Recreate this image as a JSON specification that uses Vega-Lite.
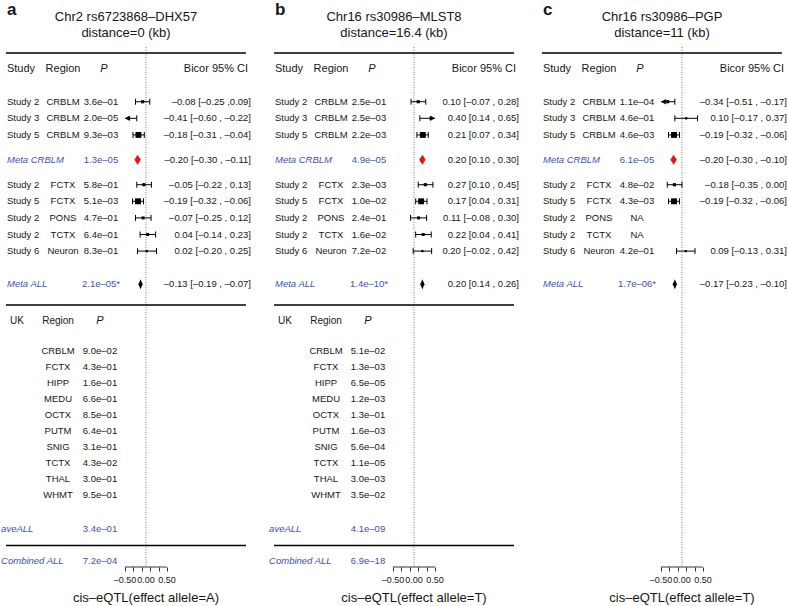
{
  "$schema": "https://vega.github.io/schema/vega-lite/v6.json",
  "padding": 0,
  "bounds": "flush",
  "spacing": 16,
  "datasets": {
    "rows": [
    {"panel":"a","kind":"title","letter":"a","t1":"Chr2 rs6723868–DHX57","t2":"distance=0 (kb)","axt":"cis–eQTL(effect allele=A)"},
    {"panel":"b","kind":"title","letter":"b","t1":"Chr16 rs30986–MLST8","t2":"distance=16.4 (kb)","axt":"cis–eQTL(effect allele=T)"},
    {"panel":"c","kind":"title","letter":"c","t1":"Chr16 rs30986–PGP","t2":"distance=11 (kb)","axt":"cis–eQTL(effect allele=T)"},
    {"panel":"a","kind":"hrule","row":-2.93},
    {"panel":"a","kind":"hrule","row":12.25},
    {"panel":"a","kind":"hrule","row":26.74},
    {"panel":"b","kind":"hrule","row":-2.93},
    {"panel":"b","kind":"hrule","row":12.25},
    {"panel":"b","kind":"hrule","row":26.74},
    {"panel":"c","kind":"hrule","row":-2.93},
    {"panel":"a","kind":"study","row":0,"study":"Study 2","region":"CRBLM","p":"3.6e–01","est":-0.08,"lo":-0.25,"hi":0.09,"clip":"none","w":1,"ci":"–0.08 [–0.25 ,0.09]"},
    {"panel":"a","kind":"study","row":1,"study":"Study 3","region":"CRBLM","p":"2.0e–05","est":-0.41,"lo":-0.60,"hi":-0.22,"clip":"left","w":0.7,"ci":"–0.41 [–0.60 , –0.22]"},
    {"panel":"a","kind":"study","row":2,"study":"Study 5","region":"CRBLM","p":"9.3e–03","est":-0.18,"lo":-0.31,"hi":-0.04,"clip":"none","w":3.5,"ci":"–0.18 [–0.31 , –0.04]"},
    {"panel":"a","kind":"meta","row":3.5,"study":"Meta CRBLM","grp":"CRBLM","p":"1.3e–05","est":-0.20,"ci":"–0.20 [–0.30 , –0.11]"},
    {"panel":"a","kind":"study","row":5,"study":"Study 2","region":"FCTX","p":"5.8e–01","est":-0.05,"lo":-0.22,"hi":0.13,"clip":"none","w":1,"ci":"–0.05 [–0.22 , 0.13]"},
    {"panel":"a","kind":"study","row":6,"study":"Study 5","region":"FCTX","p":"5.1e–03","est":-0.19,"lo":-0.32,"hi":-0.06,"clip":"none","w":3.5,"ci":"–0.19 [–0.32 , –0.06]"},
    {"panel":"a","kind":"study","row":7,"study":"Study 2","region":"PONS","p":"4.7e–01","est":-0.07,"lo":-0.25,"hi":0.12,"clip":"none","w":0.9,"ci":"–0.07 [–0.25 , 0.12]"},
    {"panel":"a","kind":"study","row":8,"study":"Study 2","region":"TCTX","p":"6.4e–01","est":0.04,"lo":-0.14,"hi":0.23,"clip":"none","w":0.9,"ci":"0.04 [–0.14 , 0.23]"},
    {"panel":"a","kind":"study","row":9,"study":"Study 6","region":"Neuron","p":"8.3e–01","est":0.02,"lo":-0.20,"hi":0.25,"clip":"none","w":0.5,"ci":"0.02 [–0.20 , 0.25]"},
    {"panel":"a","kind":"meta","row":11,"study":"Meta ALL","grp":"ALL","p":"2.1e–05*","est":-0.13,"ci":"–0.13 [–0.19 , –0.07]"},
    {"panel":"b","kind":"study","row":0,"study":"Study 2","region":"CRBLM","p":"2.5e–01","est":0.10,"lo":-0.07,"hi":0.28,"clip":"none","w":1,"ci":"0.10 [–0.07 , 0.28]"},
    {"panel":"b","kind":"study","row":1,"study":"Study 3","region":"CRBLM","p":"2.5e–03","est":0.40,"lo":0.14,"hi":0.65,"clip":"right","w":0.7,"ci":"0.40 [0.14 , 0.65]"},
    {"panel":"b","kind":"study","row":2,"study":"Study 5","region":"CRBLM","p":"2.2e–03","est":0.21,"lo":0.07,"hi":0.34,"clip":"none","w":3.5,"ci":"0.21 [0.07 , 0.34]"},
    {"panel":"b","kind":"meta","row":3.5,"study":"Meta CRBLM","grp":"CRBLM","p":"4.9e–05","est":0.20,"ci":"0.20 [0.10 , 0.30]"},
    {"panel":"b","kind":"study","row":5,"study":"Study 2","region":"FCTX","p":"2.3e–03","est":0.27,"lo":0.10,"hi":0.45,"clip":"none","w":1,"ci":"0.27 [0.10 , 0.45]"},
    {"panel":"b","kind":"study","row":6,"study":"Study 5","region":"FCTX","p":"1.0e–02","est":0.17,"lo":0.04,"hi":0.31,"clip":"none","w":3.5,"ci":"0.17 [0.04 , 0.31]"},
    {"panel":"b","kind":"study","row":7,"study":"Study 2","region":"PONS","p":"2.4e–01","est":0.11,"lo":-0.08,"hi":0.30,"clip":"none","w":0.9,"ci":"0.11 [–0.08 , 0.30]"},
    {"panel":"b","kind":"study","row":8,"study":"Study 2","region":"TCTX","p":"1.6e–02","est":0.22,"lo":0.04,"hi":0.41,"clip":"none","w":0.9,"ci":"0.22 [0.04 , 0.41]"},
    {"panel":"b","kind":"study","row":9,"study":"Study 6","region":"Neuron","p":"7.2e–02","est":0.20,"lo":-0.02,"hi":0.42,"clip":"none","w":0.5,"ci":"0.20 [–0.02 , 0.42]"},
    {"panel":"b","kind":"meta","row":11,"study":"Meta ALL","grp":"ALL","p":"1.4e–10*","est":0.20,"ci":"0.20 [0.14 , 0.26]"},
    {"panel":"c","kind":"study","row":0,"study":"Study 2","region":"CRBLM","p":"1.1e–04","est":-0.34,"lo":-0.51,"hi":-0.17,"clip":"left","w":1,"ci":"–0.34 [–0.51 , –0.17]"},
    {"panel":"c","kind":"study","row":1,"study":"Study 3","region":"CRBLM","p":"4.6e–01","est":0.10,"lo":-0.17,"hi":0.37,"clip":"none","w":0.5,"ci":"0.10 [–0.17 , 0.37]"},
    {"panel":"c","kind":"study","row":2,"study":"Study 5","region":"CRBLM","p":"4.6e–03","est":-0.19,"lo":-0.32,"hi":-0.06,"clip":"none","w":3.5,"ci":"–0.19 [–0.32 , –0.06]"},
    {"panel":"c","kind":"meta","row":3.5,"study":"Meta CRBLM","grp":"CRBLM","p":"6.1e–05","est":-0.20,"ci":"–0.20 [–0.30 , –0.10]"},
    {"panel":"c","kind":"study","row":5,"study":"Study 2","region":"FCTX","p":"4.8e–02","est":-0.18,"lo":-0.35,"hi":0.00,"clip":"none","w":1,"ci":"–0.18 [–0.35 , 0.00]"},
    {"panel":"c","kind":"study","row":6,"study":"Study 5","region":"FCTX","p":"4.3e–03","est":-0.19,"lo":-0.32,"hi":-0.06,"clip":"none","w":3.5,"ci":"–0.19 [–0.32 , –0.06]"},
    {"panel":"c","kind":"study","row":7,"study":"Study 2","region":"PONS","p":"NA","clip":"none"},
    {"panel":"c","kind":"study","row":8,"study":"Study 2","region":"TCTX","p":"NA","clip":"none"},
    {"panel":"c","kind":"study","row":9,"study":"Study 6","region":"Neuron","p":"4.2e–01","est":0.09,"lo":-0.13,"hi":0.31,"clip":"none","w":0.5,"ci":"0.09 [–0.13 , 0.31]"},
    {"panel":"c","kind":"meta","row":11,"study":"Meta ALL","grp":"ALL","p":"1.7e–06*","est":-0.17,"ci":"–0.17 [–0.23 , –0.10]"},
    {"panel":"a","kind":"ukhdr","row":13.19},
    {"panel":"b","kind":"ukhdr","row":13.19},
    {"panel":"a","kind":"uk","row":15.02,"region":"CRBLM","p":"9.0e–02"},
    {"panel":"a","kind":"uk","row":15.98,"region":"FCTX","p":"4.3e–01"},
    {"panel":"a","kind":"uk","row":16.95,"region":"HIPP","p":"1.6e–01"},
    {"panel":"a","kind":"uk","row":17.91,"region":"MEDU","p":"6.6e–01"},
    {"panel":"a","kind":"uk","row":18.87,"region":"OCTX","p":"8.5e–01"},
    {"panel":"a","kind":"uk","row":19.84,"region":"PUTM","p":"6.4e–01"},
    {"panel":"a","kind":"uk","row":20.80,"region":"SNIG","p":"3.1e–01"},
    {"panel":"a","kind":"uk","row":21.77,"region":"TCTX","p":"4.3e–02"},
    {"panel":"a","kind":"uk","row":22.73,"region":"THAL","p":"3.0e–01"},
    {"panel":"a","kind":"uk","row":23.69,"region":"WHMT","p":"9.5e–01"},
    {"panel":"a","kind":"ukmeta","row":25.72,"study":"aveALL","p":"3.4e–01"},
    {"panel":"a","kind":"ukmeta","row":27.64,"study":"Combined ALL","p":"7.2e–04"},
    {"panel":"b","kind":"uk","row":15.02,"region":"CRBLM","p":"5.1e–02"},
    {"panel":"b","kind":"uk","row":15.98,"region":"FCTX","p":"1.3e–03"},
    {"panel":"b","kind":"uk","row":16.95,"region":"HIPP","p":"6.5e–05"},
    {"panel":"b","kind":"uk","row":17.91,"region":"MEDU","p":"1.2e–03"},
    {"panel":"b","kind":"uk","row":18.87,"region":"OCTX","p":"1.3e–01"},
    {"panel":"b","kind":"uk","row":19.84,"region":"PUTM","p":"1.6e–03"},
    {"panel":"b","kind":"uk","row":20.80,"region":"SNIG","p":"5.6e–04"},
    {"panel":"b","kind":"uk","row":21.77,"region":"TCTX","p":"1.1e–05"},
    {"panel":"b","kind":"uk","row":22.73,"region":"THAL","p":"3.0e–03"},
    {"panel":"b","kind":"uk","row":23.69,"region":"WHMT","p":"3.5e–02"},
    {"panel":"b","kind":"ukmeta","row":25.72,"study":"aveALL","p":"4.1e–09"},
    {"panel":"b","kind":"ukmeta","row":27.64,"study":"Combined ALL","p":"6.9e–18"}
    ]
  },
  "data": {"name": "rows"},
  "facet": {"column": {"field": "panel", "type": "nominal", "title": null, "header": {"labels": false}}},
  "spec": {
    "width": 252,
    "height": 567,
    "layer": [
      {
        "transform": [{"filter": "datum.kind=='title'"}],
        "mark": {"type": "rule", "strokeDash": [1, 1.5], "color": "#777", "strokeWidth": 1},
        "encoding": {
          "x": {"datum": 0, "type": "quantitative",
                "scale": {"domain": [-3.476, 2.524], "nice": false, "zero": false},
                "axis": {"values": [-0.5, -0.4, -0.3, -0.2, -0.1, 0, 0.1, 0.2, 0.3, 0.4, 0.5],
                         "labels": false, "domain": false, "grid": false, "tickSize": 4, "tickColor": "#000", "tickWidth": 0.8,
                         "title": null}},
          "y": {"datum": -3.3, "type": "quantitative",
                "scale": {"domain": [-6.127, 28.03], "reverse": true, "nice": false, "zero": false},
                "axis": null},
          "y2": {"datum": 28.03}
        }
      },
      {
        "transform": [{"filter": "datum.kind=='hrule'"}],
        "mark": {"type": "rule", "color": "#000", "strokeWidth": 1.5},
        "encoding": {
          "x": {"datum": -3.333, "type": "quantitative"}, "x2": {"datum": 2.381},
          "y": {"field": "row", "type": "quantitative"}
        }
      },
      {
        "transform": [{"filter": "datum.kind=='title'"}],
        "mark": {"type": "rule", "color": "#000", "strokeWidth": 0.8},
        "encoding": {
          "x": {"datum": -0.5, "type": "quantitative"}, "x2": {"datum": 0.5},
          "y": {"datum": 28.03, "type": "quantitative"}
        }
      },
      {
        "transform": [{"filter": "datum.kind=='title'"}],
        "mark": {"type": "text", "align": "center", "baseline": "middle", "fontSize": 9, "text": "–0.50"},
        "encoding": {"x": {"datum": -0.5, "type": "quantitative"}, "y": {"datum": 28.81, "type": "quantitative"}}
      },
      {
        "transform": [{"filter": "datum.kind=='title'"}],
        "mark": {"type": "text", "align": "center", "baseline": "middle", "fontSize": 9, "text": "0.00"},
        "encoding": {"x": {"datum": 0, "type": "quantitative"}, "y": {"datum": 28.81, "type": "quantitative"}}
      },
      {
        "transform": [{"filter": "datum.kind=='title'"}],
        "mark": {"type": "text", "align": "center", "baseline": "middle", "fontSize": 9, "text": "0.50"},
        "encoding": {"x": {"datum": 0.5, "type": "quantitative"}, "y": {"datum": 28.81, "type": "quantitative"}}
      },
      {
        "transform": [{"filter": "datum.kind=='study' && datum.clip=='none' && isValid(datum.lo)"}],
        "mark": {"type": "rule", "color": "#000", "strokeWidth": 1},
        "encoding": {
          "x": {"field": "lo", "type": "quantitative", "title": null}, "x2": {"field": "hi"},
          "y": {"field": "row", "type": "quantitative"}
        }
      },
      {
        "transform": [{"filter": "datum.kind=='study' && datum.clip=='left'"}],
        "mark": {"type": "rule", "color": "#000", "strokeWidth": 1},
        "encoding": {
          "x": {"field": "hi", "type": "quantitative", "title": null}, "x2": {"datum": -0.5},
          "y": {"field": "row", "type": "quantitative"}
        }
      },
      {
        "transform": [{"filter": "datum.kind=='study' && datum.clip=='right'"}],
        "mark": {"type": "rule", "color": "#000", "strokeWidth": 1},
        "encoding": {
          "x": {"field": "lo", "type": "quantitative", "title": null}, "x2": {"datum": 0.5},
          "y": {"field": "row", "type": "quantitative"}
        }
      },
      {
        "transform": [{"filter": "datum.kind=='study' && datum.clip!='left' && isValid(datum.lo)"}],
        "mark": {"type": "rule", "color": "#000", "strokeWidth": 1, "yOffset": -3, "y2Offset": 3},
        "encoding": {
          "x": {"field": "lo", "type": "quantitative", "title": null},
          "y": {"field": "row", "type": "quantitative"}, "y2": {"field": "row"}
        }
      },
      {
        "transform": [{"filter": "datum.kind=='study' && datum.clip!='right' && isValid(datum.hi)"}],
        "mark": {"type": "rule", "color": "#000", "strokeWidth": 1, "yOffset": -3, "y2Offset": 3},
        "encoding": {
          "x": {"field": "hi", "type": "quantitative", "title": null},
          "y": {"field": "row", "type": "quantitative"}, "y2": {"field": "row"}
        }
      },
      {
        "transform": [{"filter": "datum.kind=='study' && datum.clip=='left'"}],
        "mark": {"type": "point", "shape": "triangle-left", "filled": true, "color": "#000", "size": 30, "xOffset": 2.5, "opacity": 1},
        "encoding": {"x": {"datum": -0.5, "type": "quantitative"}, "y": {"field": "row", "type": "quantitative"}}
      },
      {
        "transform": [{"filter": "datum.kind=='study' && datum.clip=='right'"}],
        "mark": {"type": "point", "shape": "triangle-right", "filled": true, "color": "#000", "size": 30, "xOffset": -2.5, "opacity": 1},
        "encoding": {"x": {"datum": 0.5, "type": "quantitative"}, "y": {"field": "row", "type": "quantitative"}}
      },
      {
        "transform": [{"filter": "datum.kind=='study' && isValid(datum.est)"}],
        "mark": {"type": "point", "shape": "square", "filled": true, "color": "#000", "opacity": 1},
        "encoding": {
          "x": {"field": "est", "type": "quantitative", "title": null},
          "y": {"field": "row", "type": "quantitative"},
          "size": {"field": "w", "type": "quantitative", "scale": {"domain": [0, 4], "range": [0, 40]}, "legend": null}
        }
      },
      {
        "transform": [{"filter": "datum.kind=='meta' && datum.grp=='CRBLM'"}],
        "mark": {"type": "point", "shape": "M0,-1L0.65,0L0,1L-0.65,0Z", "filled": true, "color": "#e8141c", "size": 100, "opacity": 1},
        "encoding": {"x": {"field": "est", "type": "quantitative", "title": null}, "y": {"field": "row", "type": "quantitative"}}
      },
      {
        "transform": [{"filter": "datum.kind=='meta' && datum.grp=='ALL'"}],
        "mark": {"type": "point", "shape": "M0,-1L0.42,0L0,1L-0.42,0Z", "filled": true, "color": "#000", "size": 100, "opacity": 1},
        "encoding": {"x": {"field": "est", "type": "quantitative", "title": null}, "y": {"field": "row", "type": "quantitative"}}
      },
      {
        "transform": [{"filter": "datum.kind=='study'"}],
        "mark": {"type": "text", "align": "left", "baseline": "middle"},
        "encoding": {"x": {"datum": -3.31, "type": "quantitative"}, "y": {"field": "row", "type": "quantitative"}, "text": {"field": "study", "type": "nominal"}}
      },
      {
        "transform": [{"filter": "datum.kind=='study'"}],
        "mark": {"type": "text", "align": "center", "baseline": "middle"},
        "encoding": {"x": {"datum": -1.976, "type": "quantitative"}, "y": {"field": "row", "type": "quantitative"}, "text": {"field": "region", "type": "nominal"}}
      },
      {
        "transform": [{"filter": "datum.kind=='study'"}],
        "mark": {"type": "text", "align": "center", "baseline": "middle"},
        "encoding": {"x": {"datum": -1.071, "type": "quantitative"}, "y": {"field": "row", "type": "quantitative"}, "text": {"field": "p", "type": "nominal"}}
      },
      {
        "transform": [{"filter": "datum.kind=='meta'"}],
        "mark": {"type": "text", "align": "left", "baseline": "middle", "fontStyle": "italic", "color": "#3d4fb6"},
        "encoding": {"x": {"datum": -3.31, "type": "quantitative"}, "y": {"field": "row", "type": "quantitative"}, "text": {"field": "study", "type": "nominal"}}
      },
      {
        "transform": [{"filter": "datum.kind=='meta'"}],
        "mark": {"type": "text", "align": "center", "baseline": "middle", "color": "#3d4fb6"},
        "encoding": {"x": {"datum": -1.071, "type": "quantitative"}, "y": {"field": "row", "type": "quantitative"}, "text": {"field": "p", "type": "nominal"}}
      },
      {
        "transform": [{"filter": "(datum.kind=='study' || datum.kind=='meta') && isValid(datum.ci)"}],
        "mark": {"type": "text", "align": "right", "baseline": "middle"},
        "encoding": {"x": {"datum": 2.5, "type": "quantitative"}, "y": {"field": "row", "type": "quantitative"}, "text": {"field": "ci", "type": "nominal"}}
      },
      {
        "transform": [{"filter": "datum.kind=='title'"}],
        "mark": {"type": "text", "align": "left", "baseline": "middle", "fontSize": 11, "text": "Study"},
        "encoding": {"x": {"datum": -3.31, "type": "quantitative"}, "y": {"datum": -1.96, "type": "quantitative"}}
      },
      {
        "transform": [{"filter": "datum.kind=='title'"}],
        "mark": {"type": "text", "align": "center", "baseline": "middle", "fontSize": 11, "text": "Region"},
        "encoding": {"x": {"datum": -1.976, "type": "quantitative"}, "y": {"datum": -1.96, "type": "quantitative"}}
      },
      {
        "transform": [{"filter": "datum.kind=='title'"}],
        "mark": {"type": "text", "align": "center", "baseline": "middle", "fontSize": 11, "fontStyle": "italic", "text": "P"},
        "encoding": {"x": {"datum": -1.0, "type": "quantitative"}, "y": {"datum": -1.96, "type": "quantitative"}}
      },
      {
        "transform": [{"filter": "datum.kind=='title'"}],
        "mark": {"type": "text", "align": "right", "baseline": "middle", "fontSize": 11, "text": "Bicor  95% CI"},
        "encoding": {"x": {"datum": 2.429, "type": "quantitative"}, "y": {"datum": -1.96, "type": "quantitative"}}
      },
      {
        "transform": [{"filter": "datum.kind=='title'"}],
        "mark": {"type": "text", "align": "center", "baseline": "middle", "fontSize": 13},
        "encoding": {"x": {"datum": -0.476, "type": "quantitative"}, "y": {"datum": -5.12, "type": "quantitative"}, "text": {"field": "t1", "type": "nominal"}}
      },
      {
        "transform": [{"filter": "datum.kind=='title'"}],
        "mark": {"type": "text", "align": "center", "baseline": "middle", "fontSize": 13},
        "encoding": {"x": {"datum": -0.476, "type": "quantitative"}, "y": {"datum": -4.12, "type": "quantitative"}, "text": {"field": "t2", "type": "nominal"}}
      },
      {
        "transform": [{"filter": "datum.kind=='title'"}],
        "mark": {"type": "text", "align": "left", "baseline": "alphabetic", "fontSize": 17, "fontWeight": "bold"},
        "encoding": {"x": {"datum": -3.31, "type": "quantitative"}, "y": {"datum": -5.22, "type": "quantitative"}, "text": {"field": "letter", "type": "nominal"}}
      },
      {
        "transform": [{"filter": "datum.kind=='title'"}],
        "mark": {"type": "text", "align": "center", "baseline": "middle", "fontSize": 13},
        "encoding": {"x": {"datum": 0, "type": "quantitative"}, "y": {"datum": 29.87, "type": "quantitative"}, "text": {"field": "axt", "type": "nominal"}}
      },
      {
        "transform": [{"filter": "datum.kind=='ukhdr'"}],
        "mark": {"type": "text", "align": "left", "baseline": "middle", "fontSize": 10, "text": "UK"},
        "encoding": {"x": {"datum": -3.238, "type": "quantitative"}, "y": {"field": "row", "type": "quantitative"}}
      },
      {
        "transform": [{"filter": "datum.kind=='ukhdr'"}],
        "mark": {"type": "text", "align": "center", "baseline": "middle", "fontSize": 10, "text": "Region"},
        "encoding": {"x": {"datum": -2.095, "type": "quantitative"}, "y": {"field": "row", "type": "quantitative"}}
      },
      {
        "transform": [{"filter": "datum.kind=='ukhdr'"}],
        "mark": {"type": "text", "align": "center", "baseline": "middle", "fontSize": 11, "fontStyle": "italic", "text": "P"},
        "encoding": {"x": {"datum": -1.095, "type": "quantitative"}, "y": {"field": "row", "type": "quantitative"}}
      },
      {
        "transform": [{"filter": "datum.kind=='uk'"}],
        "mark": {"type": "text", "align": "center", "baseline": "middle"},
        "encoding": {"x": {"datum": -2.095, "type": "quantitative"}, "y": {"field": "row", "type": "quantitative"}, "text": {"field": "region", "type": "nominal"}}
      },
      {
        "transform": [{"filter": "datum.kind=='uk'"}],
        "mark": {"type": "text", "align": "center", "baseline": "middle"},
        "encoding": {"x": {"datum": -1.095, "type": "quantitative"}, "y": {"field": "row", "type": "quantitative"}, "text": {"field": "p", "type": "nominal"}}
      },
      {
        "transform": [{"filter": "datum.kind=='ukmeta'"}],
        "mark": {"type": "text", "align": "left", "baseline": "middle", "fontStyle": "italic", "color": "#3d4fb6"},
        "encoding": {"x": {"datum": -3.45, "type": "quantitative"}, "y": {"field": "row", "type": "quantitative"}, "text": {"field": "study", "type": "nominal"}}
      },
      {
        "transform": [{"filter": "datum.kind=='ukmeta'"}],
        "mark": {"type": "text", "align": "center", "baseline": "middle", "color": "#3d4fb6"},
        "encoding": {"x": {"datum": -1.095, "type": "quantitative"}, "y": {"field": "row", "type": "quantitative"}, "text": {"field": "p", "type": "nominal"}}
      }
    ]
  },
  "config": {
    "font": "Liberation Sans",
    "view": {"stroke": null},
    "text": {"fontSize": 9.5, "color": "#161616", "font": "Liberation Sans"}
  }
}
